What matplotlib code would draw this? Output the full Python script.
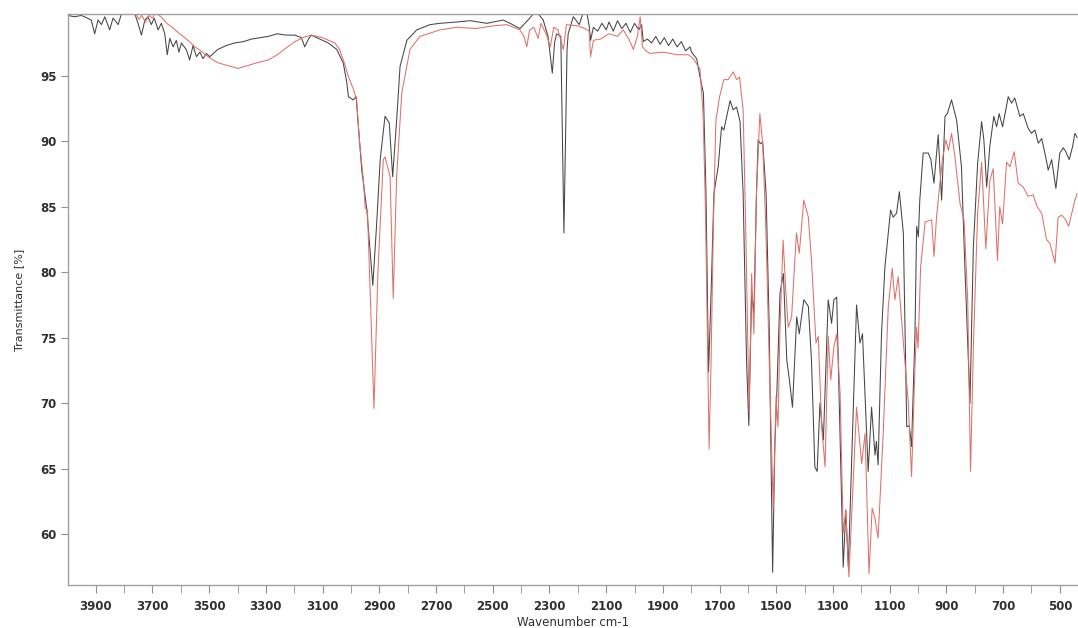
import matplotlib.pyplot as plt
from matplotlib.ticker import MultipleLocator

# spectrum 1 (dark trace): wavenumber [cm-1], transmittance [%]
black_wn = [3998, 3975, 3951, 3930, 3916, 3904, 3892, 3880, 3868, 3851, 3839, 3821, 3810, 3762,
            3751, 3739, 3727, 3716, 3704, 3694, 3680, 3669, 3657, 3648, 3639, 3627, 3616, 3607,
            3598, 3580, 3569, 3557, 3545, 3533, 3522, 3510, 3498, 3470, 3440, 3410, 3380, 3350,
            3320, 3292, 3260, 3230, 3198, 3175, 3163, 3150, 3140, 3110, 3080, 3050, 3027, 3015,
            3009, 2992, 2982, 2962, 2944, 2923, 2910, 2897, 2880, 2865, 2853, 2839, 2827, 2803,
            2768, 2721, 2686, 2627, 2580, 2521, 2463, 2430, 2404, 2369, 2351, 2335, 2322, 2305,
            2290, 2282, 2275, 2260, 2249, 2238, 2234, 2216, 2195, 2180, 2169, 2160, 2155, 2145,
            2130, 2115, 2100, 2090, 2075, 2060, 2045, 2030, 2015, 2000, 1985, 1975, 1969, 1955,
            1940, 1925, 1910, 1895, 1880, 1865, 1850, 1835, 1820, 1804, 1799, 1781, 1769, 1757,
            1748, 1739, 1730, 1720, 1705, 1693, 1685, 1663, 1652, 1640, 1628, 1617, 1605, 1597,
            1587, 1579, 1570, 1564, 1556, 1548, 1536, 1525, 1513, 1505, 1499, 1487, 1475, 1463,
            1454, 1443, 1428, 1419, 1403, 1387, 1376, 1364, 1356, 1346, 1334, 1317, 1305, 1297,
            1287, 1264, 1255, 1246, 1217, 1205, 1196, 1176, 1164, 1152, 1147, 1141, 1129, 1117,
            1105, 1097, 1088, 1076, 1066, 1052, 1040, 1031, 1023, 1011, 1005, 999, 994, 982,
            964, 955, 944, 929, 917, 905, 897, 882, 864, 847, 835, 817, 805, 790, 776, 768, 758,
            747, 733, 723, 714, 702, 682, 670, 659, 641, 629, 612, 600, 588, 576, 564, 550, 541,
            529, 514, 500, 488, 479, 467, 455, 447, 439]
black_t = [99.6, 99.5, 99.6, 99.4, 99.25, 98.2, 99.25, 98.9, 99.5, 98.5, 99.4, 98.9, 99.7, 99.7,
           99.0, 98.1, 99.25, 99.5, 98.9, 99.4, 98.5, 99.0, 98.24, 96.6, 97.85, 97.2, 97.7, 96.8,
           97.5, 96.96, 96.2, 97.3, 96.45, 96.8, 96.3, 96.7, 96.45, 97.0, 97.3, 97.5, 97.6, 97.8,
           97.9, 98.0, 98.2, 98.1, 98.1, 97.9, 97.2, 97.8, 98.1, 97.8, 97.5, 97.0, 95.95, 94.5,
           93.4, 93.15, 93.4, 87.8, 84.75, 79.0, 83.5, 88.6, 91.9, 91.4, 87.3, 91.6, 95.7, 97.7,
           98.5, 98.9, 99.0, 99.1, 99.2, 99.0, 99.25, 98.9, 98.6, 99.4, 99.9, 99.6, 99.25, 98.0,
           95.2, 97.5, 98.2, 98.0, 83.0, 97.0, 98.2, 99.5, 98.9, 99.9, 99.9, 98.8, 97.7, 98.7,
           98.4, 99.0, 98.5, 99.1, 98.4, 99.2, 98.6, 99.0, 98.3, 99.0, 98.5, 98.9, 97.6, 97.8,
           97.5, 98.0, 97.4, 97.9, 97.3, 97.8, 97.2, 97.6, 96.9, 97.2, 96.8, 96.3, 94.9, 93.65,
           86.0, 72.4, 78.4, 86.0, 88.05, 91.1, 90.85, 93.1, 92.4, 92.6, 91.5, 86.0, 73.3, 68.3,
           78.4, 76.9, 86.0, 90.1, 89.8, 89.96, 86.0, 75.8, 57.1, 66.9, 70.2, 78.4, 79.9, 73.3,
           71.8, 69.7, 76.6, 75.3, 77.9, 77.4, 73.3, 65.15, 64.8, 70.0, 67.2, 77.9, 76.1, 77.9,
           78.1, 57.5, 61.85, 57.5, 77.5, 74.6, 75.3, 64.8, 69.7, 66.05, 67.1, 65.3, 75.3, 80.4,
           83.0, 84.75, 84.2, 84.5, 86.15, 83.0, 68.2, 68.3, 66.7, 75.3, 83.5, 82.7, 85.5, 89.1,
           89.1, 88.6, 86.8, 90.5, 85.5, 91.9, 92.1, 93.15, 91.6, 88.05, 80.4, 70.0, 81.95, 88.3,
           91.5, 90.1, 86.5, 89.6, 91.9, 91.1, 92.1, 91.1, 93.4, 92.9, 93.3, 91.9, 92.1, 91.0,
           90.6, 90.85, 89.85, 90.2, 88.8, 87.8, 88.6, 86.4, 89.1, 89.5, 89.2, 88.6, 89.6, 90.6,
           90.3]

# spectrum 2 (red trace)
red_wn = [3998, 3900, 3800, 3760, 3748, 3738, 3725, 3712, 3700, 3690, 3670, 3650, 3630, 3610,
          3586, 3570, 3550, 3530, 3504, 3470, 3440, 3398, 3360, 3330, 3292, 3260, 3230, 3198,
          3170, 3140, 3100, 3057, 3040, 3027, 3010, 2992, 2980, 2970, 2956, 2950, 2942, 2930,
          2919, 2905, 2886, 2880, 2862, 2851, 2839, 2821, 2792, 2757, 2686, 2627, 2560, 2500,
          2451, 2404, 2390, 2380, 2370, 2355, 2340, 2330, 2310, 2297, 2285, 2270, 2251, 2240,
          2200, 2175, 2160, 2155, 2145, 2120, 2090, 2060, 2040, 2020, 2004, 1990, 1980, 1972,
          1960, 1946, 1900, 1850, 1810, 1793, 1769, 1758, 1750, 1737, 1730, 1722, 1713, 1700,
          1685, 1670, 1652, 1640, 1630, 1617, 1608, 1596, 1587, 1579, 1570, 1558, 1548, 1537,
          1525, 1511, 1501, 1494, 1487, 1476, 1466, 1458, 1446, 1429, 1419, 1403, 1387, 1376,
          1360, 1352, 1340, 1328, 1317, 1308, 1297, 1287, 1275, 1264, 1255, 1244, 1217, 1199,
          1187, 1173, 1162, 1152, 1141, 1123, 1105, 1091, 1082, 1070, 1059, 1047, 1035, 1023,
          1011, 1005, 1000, 991, 975, 952, 944, 935, 923, 914, 902, 893, 882, 870, 852, 838,
          825, 815, 805, 790, 776, 761, 747, 735, 720, 712, 702, 688, 676, 661, 647, 629, 612,
          594, 580, 564, 547, 535, 517, 506, 494, 482, 469, 458, 447, 439]
red_t = [99.9, 99.9, 99.9, 99.8, 99.3, 99.6, 99.1, 99.6, 99.4, 99.8, 99.5, 99.0, 98.7, 98.3,
         97.9, 97.6, 97.2, 96.9, 96.45, 96.0, 95.8, 95.56, 95.8, 96.0, 96.2, 96.6, 97.1, 97.6,
         97.9, 98.1, 97.9, 97.5, 97.0, 96.2, 95.0, 94.0, 93.15, 90.0, 87.0, 84.9, 84.75, 77.0,
         69.6, 80.0, 88.6, 88.8, 87.3, 78.0, 87.3, 93.65, 97.0, 98.0, 98.5, 98.7, 98.6, 98.8,
         98.9, 98.5, 98.0, 97.2, 98.5, 98.7, 97.85, 99.0, 98.1, 97.2, 98.7, 98.5, 97.0, 98.9,
         98.8, 98.6, 98.4, 96.45, 97.7, 97.8, 98.2, 98.0, 98.5, 97.8, 97.0, 98.0, 99.5, 97.2,
         96.9, 96.7, 96.8, 96.6, 96.6, 96.3, 95.5, 92.0, 85.0, 66.5, 73.3, 83.5, 91.6, 93.4,
         94.7, 94.7, 95.3, 94.7, 94.9, 92.4, 83.5, 69.3, 79.9, 75.3, 86.0, 92.1, 89.8, 83.5,
         73.3, 62.0, 70.5, 68.2, 75.8, 82.45, 78.4, 75.8, 76.6, 83.0, 81.45, 85.5, 84.2, 80.9,
         74.6, 75.1, 68.2, 65.15, 75.1, 71.8, 74.3, 75.3, 70.75, 60.1, 61.85, 56.75, 69.7, 65.4,
         67.7, 57.0, 62.0, 61.2, 59.7, 67.7, 77.4, 80.3, 77.9, 79.65, 76.6, 73.3, 70.2, 64.4,
         72.8, 75.8, 74.2, 80.4, 83.85, 84.0, 81.2, 84.2, 86.8, 88.6, 90.1, 89.3, 90.6, 88.8,
         85.25, 84.0, 77.9, 64.8, 74.3, 84.5, 88.4, 81.8, 87.0, 87.9, 80.9, 85.0, 83.7, 88.4,
         88.05, 89.2, 86.8, 86.5, 85.8, 85.9, 85.0, 84.5, 82.5, 82.2, 80.7, 84.2, 84.35, 84.1,
         83.5, 84.5, 85.5, 86.0]

x_ticks = list(range(3900, 499, -200))

fig = plt.figure(figsize=(10.78, 6.28), dpi=100)
ax = fig.add_axes([68 / 1078, 1 - 585 / 628, 1010 / 1078, 571 / 628])

ax.plot(black_wn, black_t, color="#454545", lw=0.75)
ax.plot(red_wn, red_t, color="#e0706a", lw=0.75)

ax.set_xlim(3998, 436)
ax.set_ylim(56.13, 99.71)
ax.set_xticks(x_ticks)
ax.xaxis.set_minor_locator(MultipleLocator(100))
ax.set_yticks([60, 65, 70, 75, 80, 85, 90, 95])

for s in ["left", "top", "bottom"]:
    ax.spines[s].set_color("#a0a0a0")
    ax.spines[s].set_linewidth(1.0)
ax.spines["right"].set_visible(False)

ax.tick_params(axis="x", which="both", direction="out", length=6, color="#909090",
               labelsize=8.5, pad=5)
ax.tick_params(axis="y", direction="out", length=5, color="#909090", labelsize=8.5, pad=3)
for lab in ax.get_xticklabels() + ax.get_yticklabels():
    lab.set_fontweight("bold")
    lab.set_color("#303030")

ax.set_xlabel("Wavenumber cm-1", fontsize=8.5, color="#303030", labelpad=2)
ax.set_ylabel("Transmittance [%]", fontsize=8, color="#303030", labelpad=12)

fig.savefig("out.png", dpi=100, facecolor="white")
